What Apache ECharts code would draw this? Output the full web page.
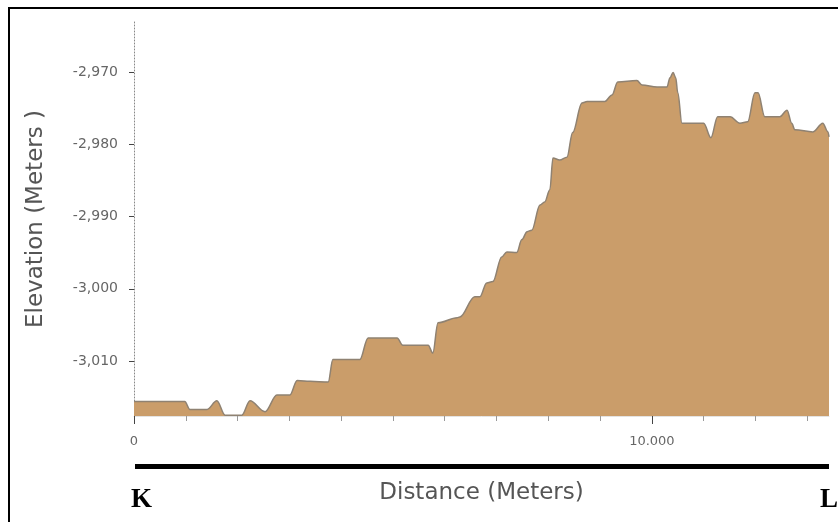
<!DOCTYPE html>
<html>
<head>
<meta charset="utf-8">
<script src="https://cdn.jsdelivr.net/npm/echarts@6/dist/echarts.min.js"></script>
<style>
  html, body { margin: 0; padding: 0; background: #fff; }
  #chart { width: 838px; height: 522px; }
</style>
</head>
<body>
<div id="chart"></div>
<script>
// profile K -> L, distance in meters
const distance = [
  0, 0.98, 1.08, 1.41, 1.60, 1.76, 2.08, 2.24, 2.53, 2.76, 3.01, 3.15, 3.40, 3.75, 3.84,
  4.36, 4.52, 5.08, 5.19, 5.68, 5.77, 5.87, 6.24, 6.29, 6.58, 6.68, 6.81, 6.93, 7.10, 7.20,
  7.39, 7.49, 7.59, 7.68, 7.84, 7.93, 8.03, 8.09, 8.22, 8.36, 8.47, 8.65, 8.75, 9.09, 9.23,
  9.34, 9.71, 9.81, 10.10, 10.29, 10.35, 10.41, 10.46, 10.50, 10.58, 10.73, 11.00, 11.14, 11.27, 11.51,
  11.70, 11.85, 11.99, 12.05, 12.18, 12.47, 12.61, 12.70, 12.76, 13.11, 13.30, 13.40, 13.42
]
const elevation = [
  -3.0156, -3.0156, -3.0167, -3.0167, -3.0155, -3.0175, -3.0175, -3.0155, -3.0170, -3.0147, -3.0147, -3.0127, -3.0128, -3.0129, -3.0098,
  -3.0098, -3.0068, -3.0068, -3.0078, -3.0078, -3.0089, -3.0047, -3.0040, -3.0039, -3.0011, -3.0011, -2.9992, -2.9990, -2.9956, -2.9949,
  -2.9950, -2.9932, -2.9921, -2.9919, -2.9884, -2.9880, -2.9863, -2.9819, -2.9822, -2.9818, -2.9784, -2.9743, -2.9741, -2.9741, -2.9732,
  -2.9714, -2.9712, -2.9718, -2.9721, -2.9721, -2.9708, -2.9701, -2.9708, -2.9729, -2.9771, -2.9771, -2.9771, -2.9791, -2.9762, -2.9762,
  -2.9771, -2.9769, -2.9729, -2.9729, -2.9762, -2.9762, -2.9753, -2.9771, -2.9780, -2.9783, -2.9771, -2.9783, -2.9790
]

// axis ticks
const yTicks = [-3.01, -3.00, -2.99, -2.98, -2.97]
const xLabelTicks = [0, 10]
const xMinorTicks = [1, 2, 3, 4, 5, 6, 7, 8, 9, 11, 12, 13]

const chart = echarts.init(document.getElementById('chart'))

chart.setOption({
  animation: false,
  grid: { left: 134, top: 22, right: 9, bottom: 106 },
  xAxis: [
    {
      type: 'value',
      min: 0,
      max: 13.42,
      position: 'bottom',
      name: 'Distance (Meters)',
      nameLocation: 'middle',
      nameGap: 66,
      nameTextStyle: { color: '#555', fontSize: 23, fontFamily: 'DejaVu Sans' },
      axisLine: { show: true, lineStyle: { color: '#e3e3e3' } },
      axisTick: { show: true, customValues: xLabelTicks, length: 8, lineStyle: { color: '#444' } },
      axisLabel: {
        customValues: xLabelTicks,
        margin: 19,
        color: '#666',
        fontSize: 13,
        fontFamily: 'DejaVu Sans',
        formatter: v => (v === 0 ? '0' : v.toFixed(3))
      },
      splitLine: { show: false }
    },
    {
      type: 'value',
      min: 0,
      max: 13.42,
      position: 'bottom',
      axisLine: { show: false },
      axisTick: { show: true, customValues: xMinorTicks, length: 5, lineStyle: { color: '#999' } },
      axisLabel: { show: false },
      splitLine: { show: false }
    }
  ],
  yAxis: {
    type: 'value',
    min: -3.0176,
    max: -2.9631,
    name: 'Elevation (Meters )',
    nameLocation: 'middle',
    nameGap: 86,
    nameTextStyle: { color: '#555', fontSize: 23, fontFamily: 'DejaVu Sans' },
    axisLine: { show: true, lineStyle: { color: '#888', type: [1, 2] } },
    axisTick: { show: true, customValues: yTicks, length: 5, lineStyle: { color: '#444' } },
    axisLabel: {
      customValues: yTicks,
      margin: 16,
      color: '#666',
      fontSize: 14,
      fontFamily: 'DejaVu Sans',
      formatter: v => v.toFixed(3).replace('.', ',')
    },
    splitLine: { show: false }
  },
  series: [
    {
      type: 'line',
      data: distance.map((d, i) => [d, elevation[i]]),
      showSymbol: false,
      smooth: 0.35,
      smoothMonotone: 'x',
      lineStyle: { color: '#8f8272', width: 1.5 },
      areaStyle: { color: '#ca9d6a', opacity: 1, origin: 'start' }
    }
  ],
  graphic: [
    {
      type: 'rect',
      shape: { x: 9, y: 8, width: 840, height: 520 },
      style: { fill: 'none', stroke: '#000', lineWidth: 2 },
      silent: true
    },
    {
      type: 'rect',
      shape: { x: 135, y: 464, width: 694, height: 5 },
      style: { fill: '#000' },
      silent: true
    },
    {
      type: 'text',
      left: 131,
      top: 487,
      style: { text: 'K', fill: '#000', font: 'bold 27px "Liberation Serif"' }
    },
    {
      type: 'text',
      left: 820,
      top: 487,
      style: { text: 'L', fill: '#000', font: 'bold 27px "Liberation Serif"' }
    }
  ]
})
</script>
</body>
</html>
